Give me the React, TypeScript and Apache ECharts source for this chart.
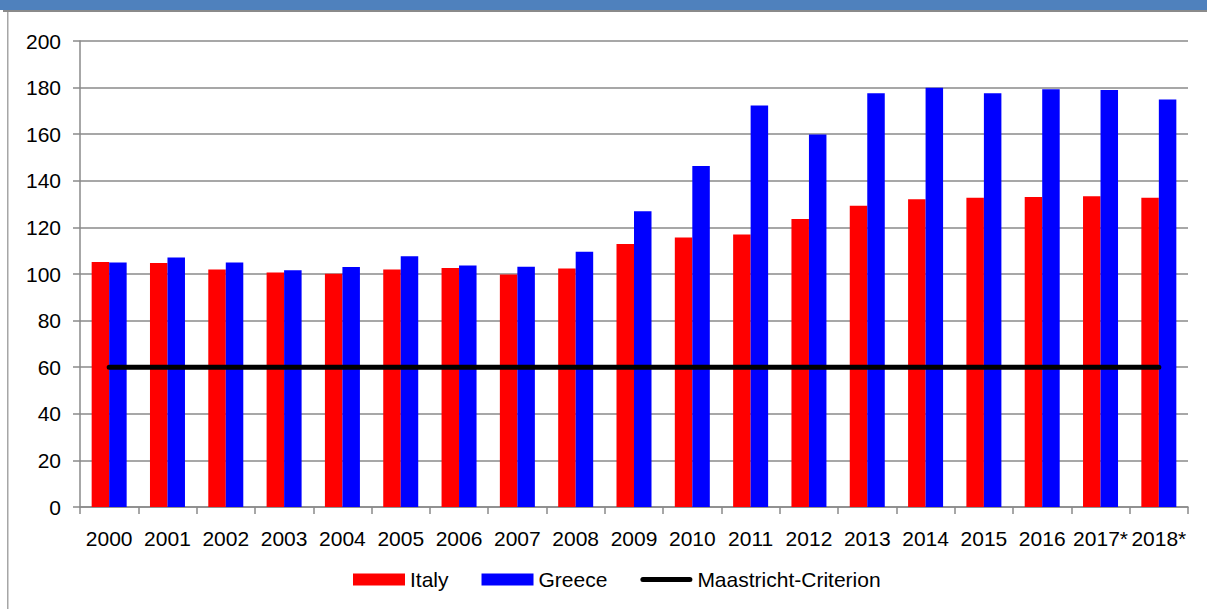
import React, { useEffect, useRef } from "react";
import * as echarts from "echarts";

const categories = ["2000", "2001", "2002", "2003", "2004", "2005", "2006", "2007", "2008", "2009", "2010", "2011", "2012", "2013", "2014", "2015", "2016", "2017*", "2018*"];
const italy = [105.1, 104.7, 101.9, 100.6, 100.1, 101.9, 102.6, 99.8, 102.4, 112.9, 115.7, 116.9, 123.6, 129.3, 132.1, 132.7, 133.0, 133.4, 132.7];
const greece = [104.9, 107.1, 104.9, 101.6, 103.0, 107.6, 103.6, 103.1, 109.6, 126.9, 146.4, 172.3, 159.9, 177.6, 179.9, 177.6, 179.3, 179.0, 174.9];
const maastricht = categories.map(() => 60);
const yTicks = { min: 0, max: 200, interval: 20 };

const FONT = "'Liberation Sans', Arial, sans-serif";
const LINE_ICON = "path://M2.5,0 L49.5,0 A2.5,2.5 0 0 1 49.5,5 L2.5,5 A2.5,2.5 0 0 1 2.5,0 Z";

export default function App() {
  const ref = useRef<HTMLDivElement>(null);
  useEffect(() => {
    if (!ref.current) return;
    const chart = echarts.init(ref.current, null, { renderer: "svg" });
    chart.setOption({
      animation: false,
      backgroundColor: "#ffffff",
      textStyle: { fontFamily: FONT },
      graphic: [
        { type: "rect", shape: { x: 0, y: 0, width: 1207, height: 10 }, style: { fill: "#4F81BD" }, silent: true },
        { type: "rect", shape: { x: 3, y: 10, width: 1204, height: 2 }, style: { fill: "#8a8a8a" }, silent: true },
        { type: "rect", shape: { x: 7, y: 12, width: 1.5, height: 597 }, style: { fill: "#a6a6a6" }, silent: true },
      ],
      grid: { left: 80, right: 19, top: 41, bottom: 102, containLabel: false },
      legend: {
        left: 353,
        top: 569,
        padding: 0,
        itemWidth: 52,
        itemHeight: 12,
        itemGap: 33,
        textStyle: { fontSize: 21, color: "#000", fontFamily: FONT },
        data: [
          { name: "Italy", icon: "rect" },
          { name: "Greece", icon: "rect" },
          { name: "Maastricht-Criterion", icon: LINE_ICON, itemStyle: { color: "#000" } },
        ],
      },
      xAxis: {
        type: "category",
        data: categories,
        boundaryGap: true,
        axisLine: { show: true, lineStyle: { color: "#8a8a8a", width: 1.5 } },
        axisTick: { show: true, length: 7, alignWithLabel: false, lineStyle: { color: "#8a8a8a", width: 1.5 } },
        axisLabel: { fontSize: 21, color: "#000", margin: 21, interval: 0, fontFamily: FONT },
        splitLine: { show: false },
      },
      yAxis: {
        type: "value",
        min: yTicks.min,
        max: yTicks.max,
        interval: yTicks.interval,
        axisLine: { show: true, lineStyle: { color: "#8a8a8a", width: 1.5 } },
        axisTick: { show: true, length: 7, lineStyle: { color: "#8a8a8a", width: 1.5 } },
        axisLabel: { fontSize: 21, color: "#000", margin: 19, fontFamily: FONT },
        splitLine: { show: true, lineStyle: { color: "#8a8a8a", width: 1.5 } },
      },
      series: [
        {
          name: "Italy",
          type: "bar",
          data: italy,
          barWidth: 17.5,
          barGap: "0%",
          itemStyle: { color: "#FF0000" },
          z: 2,
        },
        {
          name: "Greece",
          type: "bar",
          data: greece,
          barWidth: 17.5,
          barGap: "0%",
          itemStyle: { color: "#0000FF" },
          z: 2,
        },
        {
          name: "Maastricht-Criterion",
          type: "line",
          data: maastricht,
          symbol: "none",
          showSymbol: false,
          lineStyle: { color: "#000", width: 5, cap: "round" },
          itemStyle: { color: "#000" },
          z: 5,
        },
      ],
    });
    return () => chart.dispose();
  }, []);
  return (
    <div
      ref={ref}
      style={{ position: "fixed", left: 0, top: 0, width: 1207, height: 609 }}
    />
  );
}
